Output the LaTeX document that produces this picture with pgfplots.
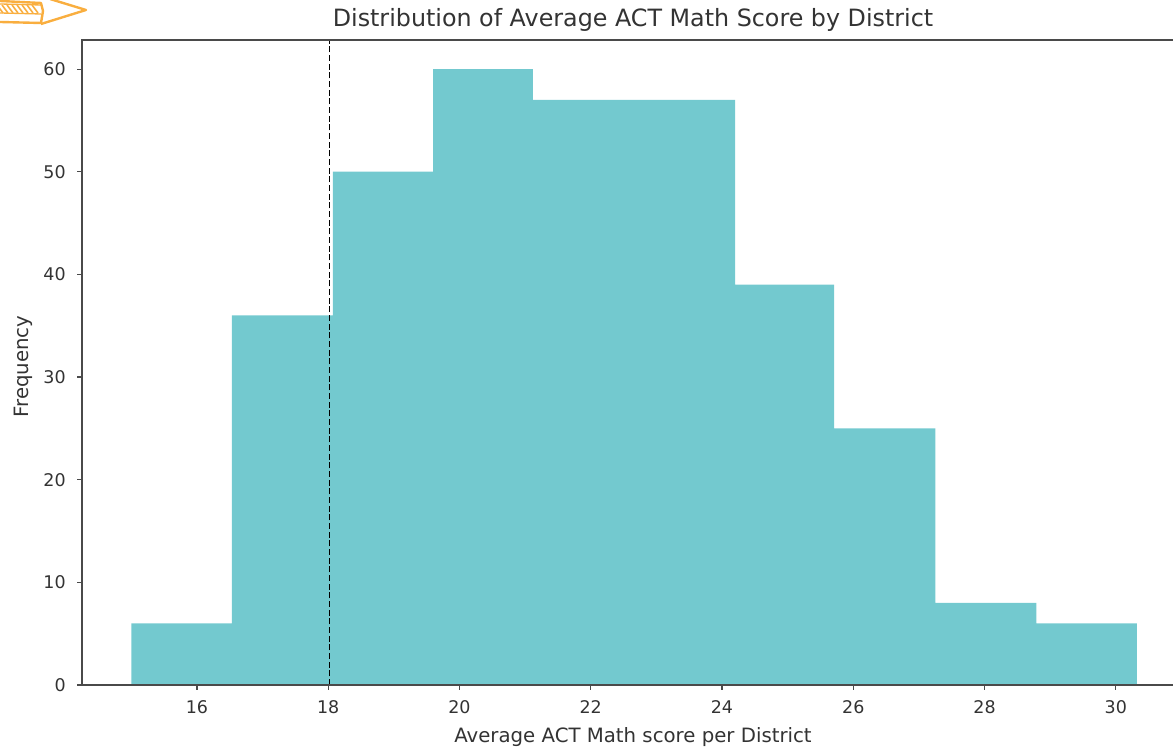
\documentclass[border=0pt]{standalone}
\usepackage{fontspec}
\setmainfont{DejaVu Sans}
\usepackage{pgfplots}
\pgfplotsset{compat=1.18}
\definecolor{barcol}{HTML}{73C9CF}
\definecolor{spine}{HTML}{4A4A4A}
\definecolor{txt}{HTML}{333333}
\definecolor{pencil}{HTML}{F9AE3F}
\begin{document}
\begin{tikzpicture}
\useasboundingbox (0,0) rectangle (879.75pt,561pt);
\begin{axis}[
at={(61.5pt,47.25pt)}, anchor=south west,
scale only axis,
width=826.5pt, height=483.75pt,
xmin=14.248, xmax=31.04,
ymin=0, ymax=62.83,
xtick={16,18,...,30}, ytick={0,10,...,60},
tick align=outside,
major tick length=3.75pt,
xtick pos=bottom, ytick pos=left,
tick style={spine,line width=0.8pt},
axis line style={spine,line width=1pt},
tick label style={font=\fontsize{13.1}{15}\selectfont,text=txt},
x tick label style={yshift=-4.5pt},
y tick label style={xshift=-5pt},
/pgf/number format/assume math mode=true,
title={Distribution of Average ACT Math Score by District},
title style={font=\fontsize{17.85}{20}\selectfont,text=txt,yshift=-3pt},
xlabel={Average ACT Math score per District},
ylabel={Frequency},
label style={font=\fontsize{14.8}{17}\selectfont,text=txt},
xlabel style={yshift=-3pt},
ylabel style={yshift=1pt,xshift=-3pt},
axis on top,
]
\addplot[ybar interval,fill=barcol,draw=none] coordinates {
(15,6)(16.53,36)(18.07,50)(19.6,60)(21.12,57)(22.66,57)(24.2,39)(25.71,25)(27.25,8)(28.79,6)(30.32,6)
};
\addplot[black,line width=1.2pt,dash pattern=on 4.5pt off 2pt] coordinates {(18.02,0)(18.02,62.83)};
\end{axis}
% pencil doodle, top left corner
\begin{scope}[x=0.75pt,y=-0.75pt,yshift=561pt,pencil,line join=round]
\draw[line width=1.8pt] (0,1) -- (41,3) -- (43,11) -- (41,23) -- (0,22);
\draw[line width=1.8pt] (50,-1) -- (86,10) -- (41,24);
\draw[line width=1pt] (0,4) -- (41,5) (0,13) -- (41,14);
\foreach \i in {-3,2,...,33} \draw[line width=1.2pt] (\i,5) -- (\i+6,13);
\end{scope}
\end{tikzpicture}
\end{document}
